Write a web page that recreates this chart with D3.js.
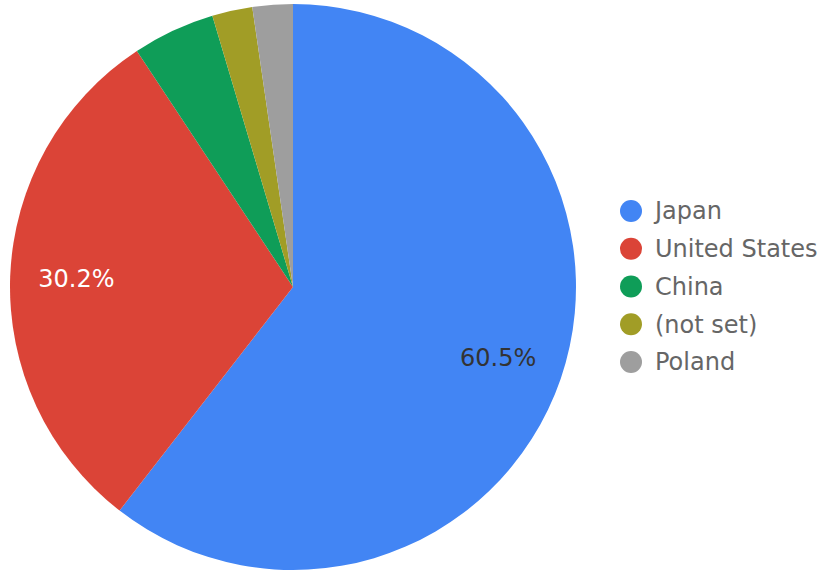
<!DOCTYPE html>
<html>
<head>
<meta charset="utf-8">
<script src="https://cdn.jsdelivr.net/npm/d3@7"></script>
<style>
html,body{margin:0;padding:0;background:#fff;}
svg{display:block;font-family:"DejaVu Sans",Verdana,sans-serif;}
</style>
</head>
<body>
<svg id="chart" width="824" height="573"></svg>
<script>
const categories = ["Japan", "United States", "China", "(not set)", "Poland"];
const values = [60.5, 30.2, 4.7, 2.3, 2.3];
const colors = ["#4285F4", "#DB4437", "#0F9D58", "#A19D26", "#9E9E9E"];
const labelColors = ["#333333", "#ffffff", "#ffffff", "#ffffff", "#ffffff"];

const svg = d3.select("#chart");
const cx = 293, cy = 287, r = 283;
const data = categories.map((c, i) => ({name: c, value: values[i], color: colors[i], lc: labelColors[i]}));
const total = d3.sum(values);

const pie = d3.pie().value(d => d.value).sort(null);
const arc = d3.arc().innerRadius(0).outerRadius(r);
const labelArc = d3.arc().innerRadius(r * 0.766).outerRadius(r * 0.766);

const g = svg.append("g").attr("transform", `translate(${cx},${cy})`);
const arcs = pie(data);
g.selectAll("path").data(arcs).enter().append("path")
  .attr("d", arc).attr("fill", d => d.data.color);

g.selectAll("text").data(arcs.filter(d => d.data.value / total >= 0.1)).enter().append("text")
  .attr("transform", d => `translate(${labelArc.centroid(d)})`)
  .attr("text-anchor", "middle").attr("dy", "0.35em")
  .attr("font-size", 24).attr("fill", d => d.data.lc)
  .text(d => (d.data.value / total * 100).toFixed(1) + "%");

const legendY = d3.scalePoint().domain(categories).range([211, 362]);
const lg = svg.append("g");
const items = lg.selectAll("g").data(data).enter().append("g")
  .attr("transform", d => `translate(631,${legendY(d.name)})`);
items.append("circle").attr("r", 11).attr("fill", d => d.color);
items.append("text").attr("x", 24).attr("dy", "0.35em")
  .attr("font-size", 24).attr("fill", "#666666").text(d => d.name);
</script>
</body>
</html>
